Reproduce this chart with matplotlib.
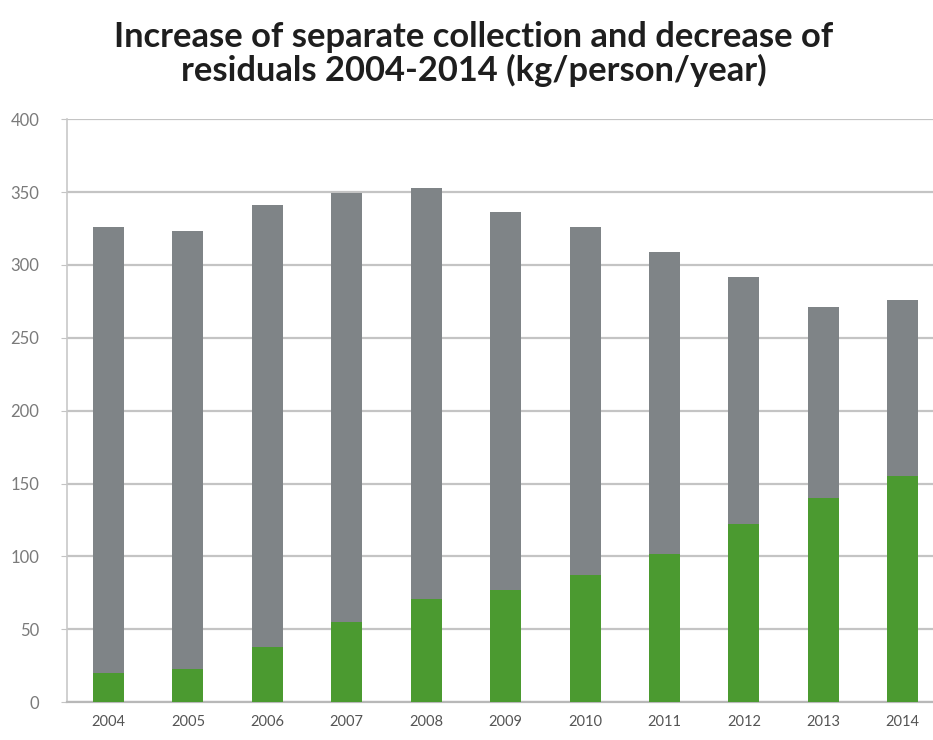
import matplotlib
matplotlib.use("Agg")
import matplotlib.pyplot as plt
import numpy as np

years = ["2004", "2005", "2006", "2007", "2008", "2009", "2010", "2011", "2012", "2013", "2014"]
# kg/person/year
separate = [20, 23, 38, 55, 71, 77, 87, 102, 122, 140, 155]
total = [326, 323, 341, 349, 353, 336, 326, 309, 292, 271, 276]
residual = [t - s for t, s in zip(total, separate)]

green = "#4b9a30"
grey = "#7f8487"

plt.rcParams["font.family"] = ["Lato", "DejaVu Sans"]

fig = plt.figure(figsize=(9.33, 7.4), dpi=100)
ax = fig.add_axes([0.072, 0.051, 0.928, 0.788])

x = np.arange(len(years))
ax.bar(x, separate, width=0.39, color=green, zorder=3)
ax.bar(x, residual, width=0.39, bottom=separate, color=grey, zorder=3)

ax.set_xlim(-0.52, len(years) - 1 + 0.38)
ax.set_ylim(0, 400)
ax.set_yticks(range(0, 401, 50))
ax.set_xticks(x)
ax.set_xticklabels(years)

ax.grid(axis="y", color="#c4c4c4", linewidth=1.6, zorder=0)
for side in ["top", "right"]:
    ax.spines[side].set_visible(False)
ax.spines["left"].set_color("#c8c8c8")
ax.spines["left"].set_linewidth(1.2)
ax.spines["bottom"].set_color("#b8b8b8")
ax.spines["bottom"].set_linewidth(1.6)

ax.tick_params(axis="y", length=4, color="#c4c4c4", pad=16, labelsize=12, labelcolor="#7a7a7a")
ax.tick_params(axis="x", length=0, pad=9, labelsize=10.5, labelcolor="#555555")

fig.text(0.508, 0.927, "Increase of separate collection and decrease of\nresiduals 2004-2014 (kg/person/year)",
         ha="center", va="center", fontsize=24.8, fontweight="bold", color="#1e1e1e",
         linespacing=1.05)

fig.savefig("out.png", dpi=100)
